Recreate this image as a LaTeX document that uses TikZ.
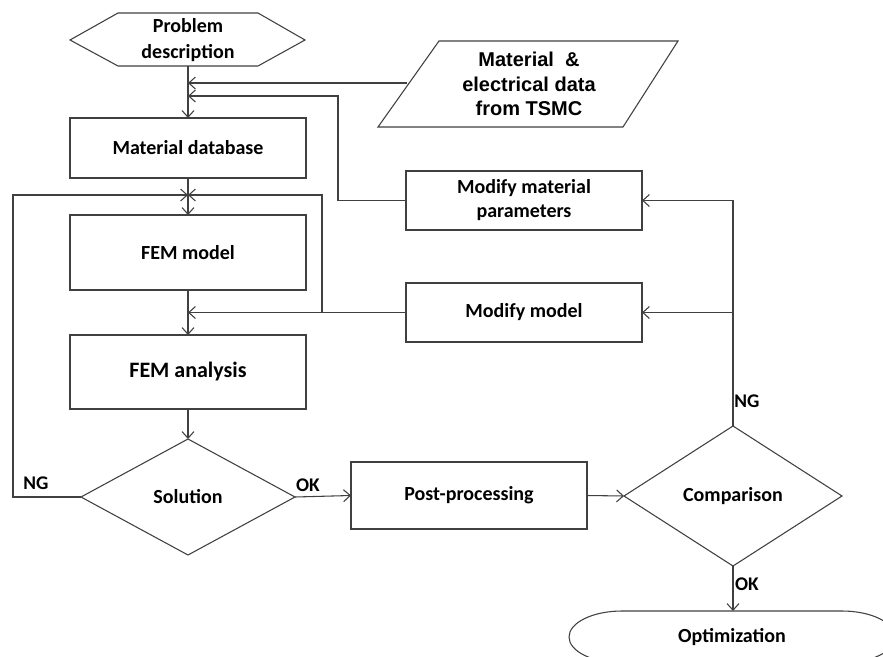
\documentclass[tikz,border=0pt]{standalone}
\usepackage{fontspec}
\setmainfont{Carlito}
\newfontfamily\arialfont{Liberation Sans}
\usetikzlibrary{arrows.meta,shapes.geometric}
\definecolor{ln}{HTML}{404040}
\begin{document}
\begin{tikzpicture}[x=0.75pt,y=-0.75pt,
  line/.style={draw=ln, line width=0.8pt},
  arr/.style={line, -{Straight Barb[length=5pt,width=9pt,line width=0.8pt]}},
  txt/.style={inner sep=0pt, outer sep=0pt, align=center, font=\bfseries\fontsize{15}{18}\selectfont},
  box/.style={txt, draw=ln, line width=0.8pt, rectangle, minimum width=177pt},
  dia/.style={txt, draw=ln, line width=0.8pt, diamond},
  lbl/.style={inner sep=0pt, font=\bfseries\fontsize{14.5}{17}\selectfont}]
\useasboundingbox (0,0) rectangle (883,657);
\fill[white] (0,0) rectangle (883,657);

% Problem description (hexagon)
\draw[line] (70,40) -- (118,13) -- (258,13) -- (305,40) -- (258,66) -- (118,66) -- cycle;
\node[txt, font=\bfseries\fontsize{15}{19.5}\selectfont] (pd) at (188,40) {Problem\\description};
\coordinate (pdb) at (188,66);

% Material & electrical data (parallelogram)
\draw[line] (439,41) -- (678,41) -- (623,127) -- (378,127) -- cycle;
\node[txt, font=\arialfont\bfseries\fontsize{15}{18.5}\selectfont] (mt) at (529,84) {Material \ \&\\electrical data\\from TSMC};
\coordinate (mtl) at (407,83);

% Main column
\node[box, minimum height=45pt] (mdb) at (188,148) {Material database};
\node[box, minimum height=56.25pt] (fm) at (188,252.5) {FEM model};
\node[box, minimum height=55.5pt, font=\bfseries\fontsize{16.5}{19}\selectfont] (fa) at (188,372) {FEM analysis};
\node[dia, minimum width=160.5pt, minimum height=87pt] (sol) at (188,497) {Solution};

% Right side
\node[box, minimum height=44.25pt] (mmp) at (524,200.5) {Modify material\\parameters};
\node[box, minimum height=44.25pt] (mm) at (524,312.5) {Modify model};
\node[box, minimum height=50.25pt] (pp) at (469,495.5) {Post-processing};
\node[dia, minimum width=163.5pt, minimum height=105pt] (cmp) at (733,496) {Comparison};

% Optimization (terminal)
\draw[line] (622,611) -- (842,611) arc[start angle=90,end angle=-90,x radius=39.75pt,y radius=19.5pt]
  -- (622,663) arc[start angle=270,end angle=90,x radius=39.75pt,y radius=19.5pt] -- cycle;
\node[txt] (opt) at (732,637) {Optimization};
\coordinate (optt) at (733,611);

% junction coordinates
\coordinate (in1) at (188,83);
\coordinate (in2) at (188,96);
\coordinate (k1) at (338,96);
\coordinate (k1b) at (338,200.5);
\coordinate (in3) at (188,195);
\coordinate (ng1) at (13,497);
\coordinate (ng2) at (13,195);
\coordinate (r1) at (322,312.5);
\coordinate (r2) at (322,195);
\coordinate (in4) at (188,312.5);
\coordinate (c1) at (733,200.5);
\coordinate (c2) at (733,312.5);

% connectors
\draw[arr] (pdb) -- (mdb.north);
\draw[arr] (mtl) -- (in1);
\draw[arr] (mmp.west) -- (k1b) -- (k1) -- (in2);
\draw[arr] (mdb.south) -- (fm.north);
\draw[arr] (sol.west) -- (ng1) -- (ng2) -- (in3);
\draw[arr] (r1) -- (r2) -- (in3);
\draw[arr] (mm.west) -- (in4);
\draw[arr] (fm.south) -- (fa.north);
\draw[arr] (fa.south) -- (sol.north);
\draw[arr] (sol.east) -- (pp.west);
\draw[arr] (pp.east) -- (cmp.west);
\draw[arr] (cmp.north) -- (c1) -- (mmp.east);
\draw[arr] (c2) -- (mm.east);
\draw[arr] (cmp.south) -- (optt);

% labels
\node[lbl] (nga) at (36,483) {NG};
\node[lbl] (oka) at (308,485) {OK};
\node[lbl] (ngb) at (747,401) {NG};
\node[lbl] (okb) at (747,584) {OK};
\end{tikzpicture}
\end{document}
